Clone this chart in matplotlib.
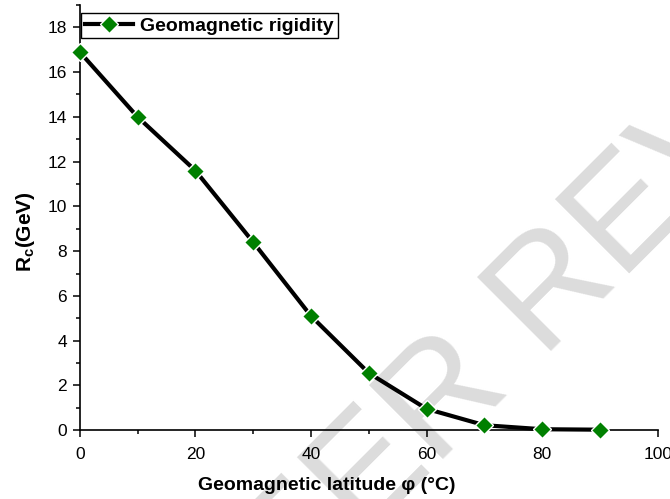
import matplotlib
matplotlib.use("Agg")
import matplotlib.pyplot as plt
from matplotlib.ticker import MultipleLocator

plt.rcParams["font.family"] = ["Liberation Sans", "DejaVu Sans"]

# Data
latitude = [0, 10, 20, 30, 40, 50, 60, 70, 80, 90]
rigidity = [16.9, 14.0, 11.6, 8.4, 5.1, 2.55, 0.95, 0.22, 0.04, 0.02]

fig = plt.figure(figsize=(6.7, 4.99), dpi=100)
ax = fig.add_axes((0.119, 0.138, 0.863, 0.852))

# watermark behind everything
fig.text(0.887, 0.38, "PEER REVIEW", fontsize=110, color="#dcdcdc",
         rotation=45, rotation_mode="anchor", ha="center", va="baseline",
         zorder=-5)
ax.set_facecolor("none")

ax.plot(latitude, rigidity, color="black", lw=3, marker="D", ms=9.5,
        mfc="#008000", mec="white", mew=1, label="Geomagnetic rigidity",
        clip_on=False, zorder=3)

ax.set_xlim(0, 100)
ax.set_ylim(0, 19)
ax.xaxis.set_major_locator(MultipleLocator(20))
ax.xaxis.set_minor_locator(MultipleLocator(10))
ax.yaxis.set_major_locator(MultipleLocator(2))
ax.yaxis.set_minor_locator(MultipleLocator(1))

for side in ["top", "right"]:
    ax.spines[side].set_visible(False)
for side in ["left", "bottom"]:
    ax.spines[side].set_linewidth(1.2)

ax.tick_params(which="major", direction="out", length=5, width=1.1,
               labelsize=12.5)
ax.tick_params(axis="x", which="major", pad=7)
ax.tick_params(axis="y", which="major", pad=4)
ax.tick_params(which="minor", direction="out", length=3, width=1.1)

ax.set_xlabel("Geomagnetic latitude φ (°C)", fontsize=14, fontweight="bold",
              labelpad=11)
ax.set_ylabel("R$_\\mathregular{c}$(GeV)", fontsize=15, fontweight="bold",
              labelpad=8)
ax.xaxis.label.set_x(0.427)
ax.yaxis.label.set_y(0.466)

leg = ax.legend(loc="upper left", bbox_to_anchor=(0.002, 0.981),
                borderaxespad=0, fancybox=False, framealpha=1,
                edgecolor="black", prop={"weight": "bold", "size": 14},
                handlelength=2.5, handletextpad=0.35, borderpad=0.2)
leg.get_frame().set_linewidth(1.0)

fig.savefig("out.png", dpi=100)
